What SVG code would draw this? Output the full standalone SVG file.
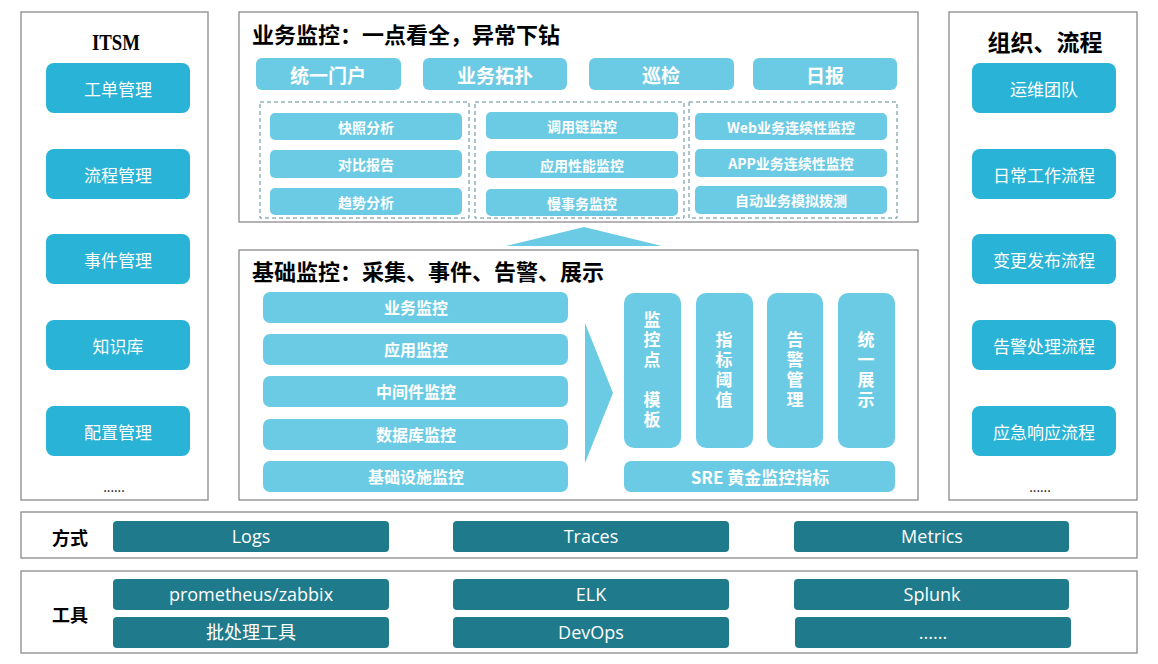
<svg xmlns="http://www.w3.org/2000/svg" width="1158" height="664" viewBox="0 0 1158 664">
<style>
.panel{fill:#fff;stroke:#8a8a8a;stroke-width:1.3}
.side{fill:#29b3d6}
.lb{fill:#6ccbe4}
.teal{fill:#1f7a8c}
.dash{fill:none;stroke:#5d8a96;stroke-width:1;stroke-dasharray:4 3}
.t{font-family:"Noto Sans CJK SC","Noto Sans",sans-serif;text-anchor:middle;dominant-baseline:central}
.sw{fill:#fff;font-size:17px}
.bw{fill:#fff;font-weight:bold}
.vt{font-family:"Noto Sans CJK SC",sans-serif;font-weight:bold;font-size:17px;fill:#fff;writing-mode:vertical-rl;text-anchor:middle;letter-spacing:3px}
.ttl{font-family:"Noto Sans CJK SC",sans-serif;font-weight:bold;font-size:22px;fill:#000}
.tw{fill:#fff;font-size:18px;font-family:"Open Sans","Noto Sans CJK SC",sans-serif;text-anchor:middle;dominant-baseline:central}
</style>
<rect width="1158" height="664" fill="#fff"/>

<g id="itsm">
<rect class="panel" x="21" y="12" width="187" height="488"/>
<text x="116" y="42" font-family="Liberation Serif,serif" font-size="24" font-weight="bold" text-anchor="middle" dominant-baseline="central" textLength="48" lengthAdjust="spacingAndGlyphs">ITSM</text>
<rect class="side" x="46" y="63" width="144" height="50" rx="8"/>
<text class="t sw" x="118" y="88">工单管理</text>
<rect class="side" x="46" y="149" width="144" height="50" rx="8"/>
<text class="t sw" x="118" y="174">流程管理</text>
<rect class="side" x="46" y="234" width="144" height="50" rx="8"/>
<text class="t sw" x="118" y="259">事件管理</text>
<rect class="side" x="46" y="320" width="144" height="50" rx="8"/>
<text class="t sw" x="118" y="345">知识库</text>
<rect class="side" x="46" y="406" width="144" height="50" rx="8"/>
<text class="t sw" x="118" y="431">配置管理</text>
<text class="t" x="114" y="486" font-size="13" fill="#000">......</text>
</g>

<g id="org">
<rect class="panel" x="949" y="12" width="188" height="488"/>
<text class="t" x="1045" y="41" font-size="23" fill="#000" font-weight="bold">组织、流程</text>
<rect class="side" x="972" y="63" width="144" height="50" rx="8"/>
<text class="t sw" x="1044" y="88">运维团队</text>
<rect class="side" x="972" y="149" width="144" height="50" rx="8"/>
<text class="t sw" x="1044" y="174">日常工作流程</text>
<rect class="side" x="972" y="234" width="144" height="50" rx="8"/>
<text class="t sw" x="1044" y="259">变更发布流程</text>
<rect class="side" x="972" y="320" width="144" height="50" rx="8"/>
<text class="t sw" x="1044" y="345">告警处理流程</text>
<rect class="side" x="972" y="406" width="144" height="50" rx="8"/>
<text class="t sw" x="1044" y="431">应急响应流程</text>
<text class="t" x="1040" y="486" font-size="13" fill="#000">......</text>
</g>

<g id="biz">
<rect class="panel" x="239" y="12" width="679" height="210"/>
<text class="ttl" x="252" y="43">业务监控：一点看全，异常下钻</text>
<rect class="lb" x="256" y="58" width="145" height="32" rx="6"/>
<text class="t bw" x="328" y="74" font-size="19">统一门户</text>
<rect class="lb" x="423" y="58" width="144" height="32" rx="6"/>
<text class="t bw" x="495" y="74" font-size="19">业务拓扑</text>
<rect class="lb" x="589" y="58" width="145" height="32" rx="6"/>
<text class="t bw" x="661" y="74" font-size="19">巡检</text>
<rect class="lb" x="753" y="58" width="144" height="32" rx="6"/>
<text class="t bw" x="825" y="74" font-size="19">日报</text>

<rect class="dash" x="260" y="102" width="209" height="116"/>
<rect class="dash" x="475" y="102" width="209" height="116"/>
<rect class="dash" x="689" y="102" width="208" height="116"/>

<rect class="lb" x="270" y="113" width="192" height="27" rx="5"/>
<text class="t bw" x="366" y="127" font-size="14">快照分析</text>
<rect class="lb" x="270" y="150" width="192" height="28" rx="5"/>
<text class="t bw" x="366" y="164" font-size="14">对比报告</text>
<rect class="lb" x="270" y="188" width="192" height="27" rx="5"/>
<text class="t bw" x="366" y="202" font-size="14">趋势分析</text>

<rect class="lb" x="486" y="112" width="192" height="27" rx="5"/>
<text class="t bw" x="582" y="126" font-size="14">调用链监控</text>
<rect class="lb" x="486" y="151" width="192" height="27" rx="5"/>
<text class="t bw" x="582" y="165" font-size="14">应用性能监控</text>
<rect class="lb" x="486" y="189" width="192" height="27" rx="5"/>
<text class="t bw" x="582" y="203" font-size="14">慢事务监控</text>

<rect class="lb" x="695" y="113" width="192" height="27" rx="5"/>
<text class="t bw" x="791" y="127" font-size="14">Web业务连续性监控</text>
<rect class="lb" x="695" y="149" width="192" height="28" rx="5"/>
<text class="t bw" x="791" y="163" font-size="14">APP业务连续性监控</text>
<rect class="lb" x="695" y="186" width="192" height="28" rx="5"/>
<text class="t bw" x="791" y="200" font-size="14">自动业务模拟拨测</text>
</g>

<g id="base">
<rect class="panel" x="239" y="250" width="679" height="250"/>
<text class="ttl" x="252" y="280">基础监控：采集、事件、告警、展示</text>
<rect class="lb" x="263" y="292" width="305" height="31" rx="7"/>
<text class="t bw" x="416" y="307" font-size="16">业务监控</text>
<rect class="lb" x="263" y="334" width="305" height="31" rx="7"/>
<text class="t bw" x="416" y="349" font-size="16">应用监控</text>
<rect class="lb" x="263" y="376" width="305" height="31" rx="7"/>
<text class="t bw" x="416" y="391" font-size="16">中间件监控</text>
<rect class="lb" x="263" y="419" width="305" height="31" rx="7"/>
<text class="t bw" x="416" y="434" font-size="16">数据库监控</text>
<rect class="lb" x="263" y="461" width="305" height="31" rx="7"/>
<text class="t bw" x="416" y="476" font-size="16">基础设施监控</text>

<rect class="lb" x="624" y="293" width="57" height="155" rx="10"/>
<text class="vt" x="652" y="371">监控点　模板</text>
<rect class="lb" x="696" y="293" width="57" height="155" rx="10"/>
<text class="vt" x="724" y="371">指标阈值</text>
<rect class="lb" x="767" y="293" width="56" height="155" rx="10"/>
<text class="vt" x="795" y="371">告警管理</text>
<rect class="lb" x="838" y="293" width="57" height="155" rx="10"/>
<text class="vt" x="866" y="371">统一展示</text>
<rect class="lb" x="624" y="461" width="271" height="31" rx="7"/>
<text class="t bw" x="760" y="476" font-size="17">SRE 黄金监控指标</text>
</g>

<g id="connectors">
<polygon class="lb" points="506,246 584,227 662,246"/>
<polygon class="lb" points="585,323 613,393 585,463"/>
</g>

<g id="methods">
<rect class="panel" x="21" y="512" width="1116" height="46"/>
<text class="t" x="70" y="537" font-size="18" font-weight="bold" fill="#000">方式</text>
<rect class="teal" x="113" y="521" width="276" height="31" rx="4"/>
<text class="tw" x="251" y="536" font-size="19">Logs</text>
<rect class="teal" x="453" y="521" width="276" height="31" rx="4"/>
<text class="tw" x="591" y="536" font-size="19">Traces</text>
<rect class="teal" x="794" y="521" width="275" height="31" rx="4"/>
<text class="tw" x="932" y="536" font-size="19">Metrics</text>
</g>

<g id="tools">
<rect class="panel" x="21" y="571" width="1116" height="82"/>
<text class="t" x="70" y="614" font-size="18" font-weight="bold" fill="#000">工具</text>
<rect class="teal" x="113" y="579" width="276" height="31" rx="4"/>
<text class="tw" x="251" y="594" font-size="17">prometheus/zabbix</text>
<rect class="teal" x="113" y="617" width="276" height="31" rx="4"/>
<text class="tw" x="251" y="632" font-size="17">批处理工具</text>
<rect class="teal" x="453" y="579" width="276" height="31" rx="4"/>
<text class="tw" x="591" y="594" font-size="17">ELK</text>
<rect class="teal" x="453" y="617" width="276" height="31" rx="4"/>
<text class="tw" x="591" y="632" font-size="17">DevOps</text>
<rect class="teal" x="794" y="579" width="275" height="31" rx="4"/>
<text class="tw" x="932" y="594" font-size="17">Splunk</text>
<rect class="teal" x="795" y="617" width="276" height="31" rx="4"/>
<text class="tw" x="933" y="632" font-size="17">......</text>
</g>
</svg>
